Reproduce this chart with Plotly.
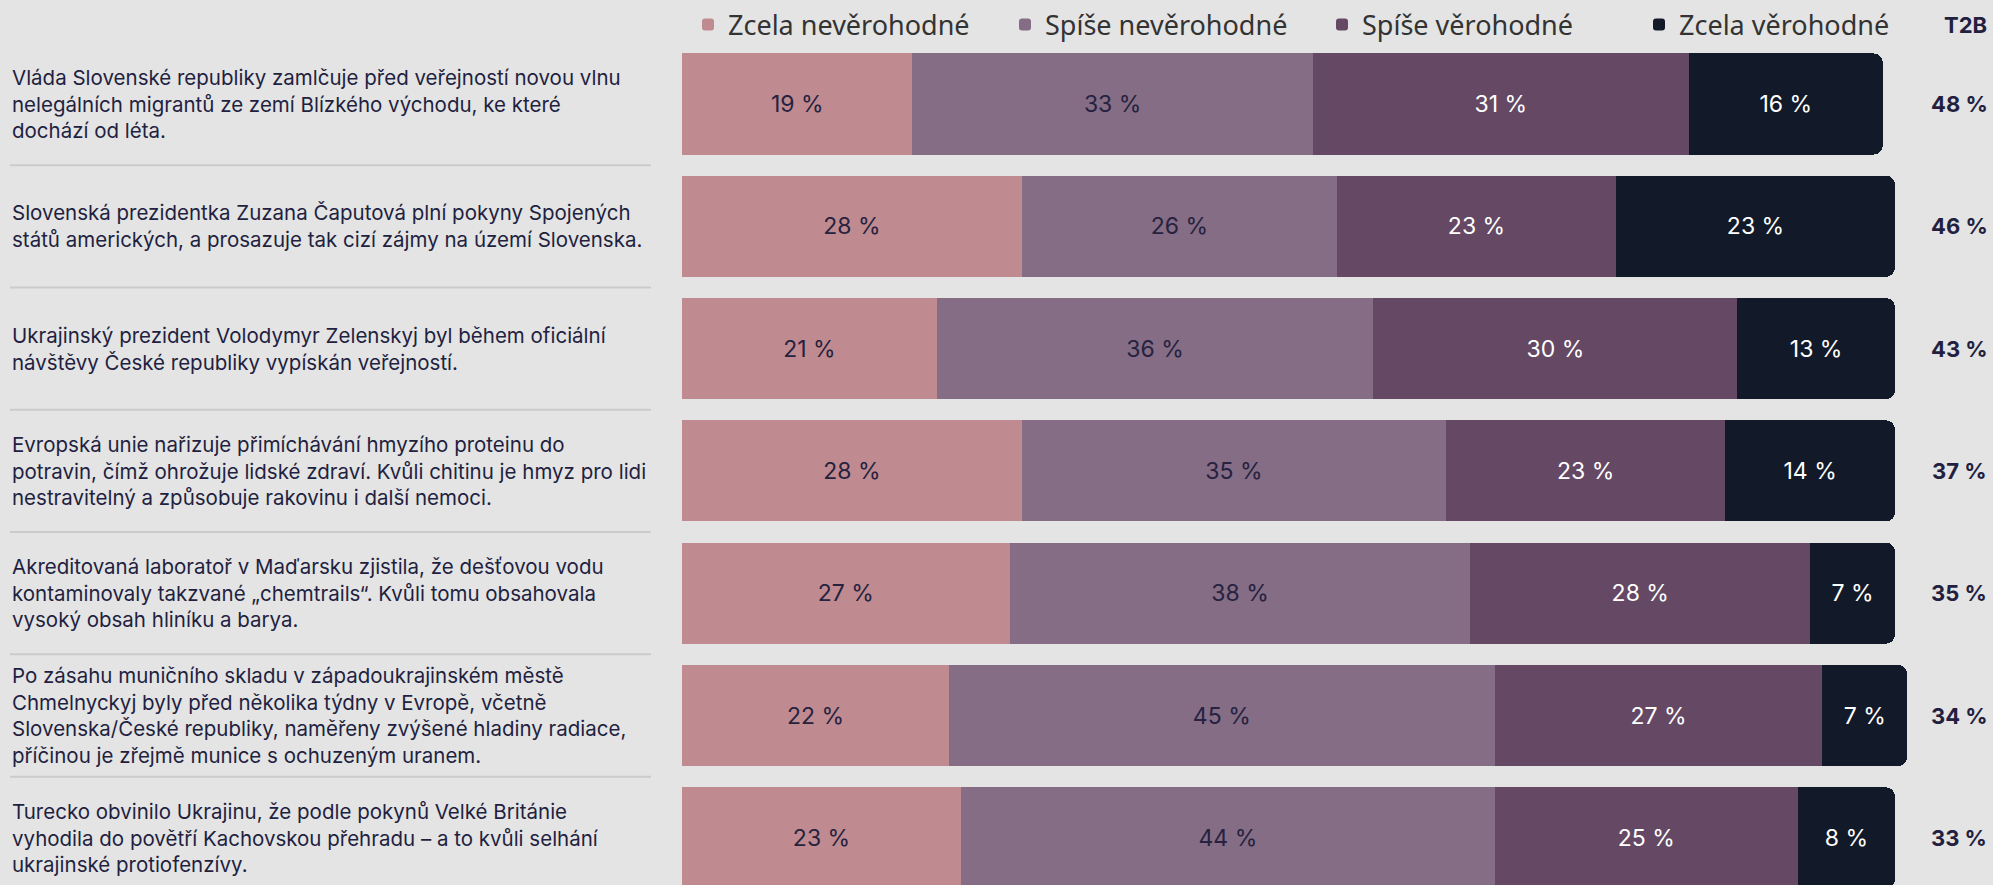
import plotly.graph_objects as go

# statements (rows, top to bottom)
statements = [
    "Vláda Slovenské republiky zamlčuje před veřejností novou vlnu<br>nelegálních migrantů ze zemí Blízkého východu, ke které<br>dochází od léta.",
    "Slovenská prezidentka Zuzana Čaputová plní pokyny Spojených<br>států amerických, a prosazuje tak cizí zájmy na území Slovenska.",
    "Ukrajinský prezident Volodymyr Zelenskyj byl během oficiální<br>návštěvy České republiky vypískán veřejností.",
    "Evropská unie nařizuje přimíchávání hmyzího proteinu do<br>potravin, čímž ohrožuje lidské zdraví. Kvůli chitinu je hmyz pro lidi<br>nestravitelný a způsobuje rakovinu i další nemoci.",
    "Akreditovaná laboratoř v Maďarsku zjistila, že dešťovou vodu<br>kontaminovaly takzvané „chemtrails“. Kvůli tomu obsahovala<br>vysoký obsah hliníku a barya.",
    "Po zásahu muničního skladu v západoukrajinském městě<br>Chmelnyckyj byly před několika týdny v Evropě, včetně<br>Slovenska/České republiky, naměřeny zvýšené hladiny radiace,<br>příčinou je zřejmě munice s ochuzeným uranem.",
    "Turecko obvinilo Ukrajinu, že podle pokynů Velké Británie<br>vyhodila do povětří Kachovskou přehradu – a to kvůli selhání<br>ukrajinské protiofenzívy.",
]
rows = list(range(len(statements)))

series_names = ["Zcela nevěrohodné", "Spíše nevěrohodné", "Spíše věrohodné", "Zcela věrohodné"]
zcela_neverohodne = [19, 28, 21, 28, 27, 22, 23]
spise_neverohodne = [33, 26, 36, 35, 38, 45, 44]
spise_verohodne = [31, 23, 30, 23, 28, 27, 25]
zcela_verohodne = [16, 23, 13, 14, 7, 7, 8]
t2b = [48, 46, 43, 37, 35, 34, 33]

colors = ["#bf8b90", "#846d85", "#644864", "#121928"]
text_colors = ["#26223f", "#26223f", "#ffffff", "#ffffff"]
navy = "#221f40"
bg = "#e4e4e4"

W, H = 1993, 885
x0_px, px_per_pct = 682, 12.13
x_max = 101.5
row0_px, row_step = 104, 122.3

fig = go.Figure()
for name, vals, col, tcol in zip(series_names,
                                  [zcela_neverohodne, spise_neverohodne, spise_verohodne, zcela_verohodne],
                                  colors, text_colors):
    fig.add_trace(go.Bar(
        y=rows, x=vals, name=name, orientation="h",
        marker=dict(color=col, line=dict(width=0)),
        width=0.826,
        text=[f"{v} %" for v in vals], textposition="inside",
        insidetextanchor="middle", textangle=0, constraintext="none",
        insidetextfont=dict(family="Inter, sans-serif", size=23, color=tcol),
        hoverinfo="skip",
    ))

# statement labels on the left
for i, s in zip(rows, statements):
    fig.add_annotation(x=10 / W, xref="paper", y=i, yref="y", text=s,
                       showarrow=False, xanchor="left", yanchor="middle", align="left",
                       font=dict(family="Inter, sans-serif", size=20.5, color=navy))
# separators
for i in rows[:-1]:
    fig.add_shape(type="line", xref="paper", yref="y", x0=10 / W, x1=651 / W,
                  y0=i + 0.5, y1=i + 0.5, line=dict(color="#cbcbcb", width=2))

# T2B column
fig.add_annotation(x=1965 / W, xref="paper", y=1 - 25 / H, yref="paper", text="<b>T2B</b>",
                   showarrow=False, xanchor="center", yanchor="middle",
                   font=dict(family="Inter, sans-serif", size=22, color=navy))
for i, v in zip(rows, t2b):
    fig.add_annotation(x=1959 / W, xref="paper", y=i, yref="y", text=f"<b>{v} %</b>",
                       showarrow=False, xanchor="center", yanchor="middle",
                       font=dict(family="Inter, sans-serif", size=22, color=navy))

fig.update_layout(
    width=W, height=H, barmode="stack", barcornerradius=9,
    paper_bgcolor=bg, plot_bgcolor=bg,
    margin=dict(l=0, r=0, t=0, b=0),
    showlegend=True,
    legend=dict(orientation="h", x=688 / W, xanchor="left", y=1 - 25 / H, yanchor="middle",
                bgcolor="rgba(0,0,0,0)", traceorder="normal",
                entrywidth=272, entrywidthmode="pixels",
                font=dict(family="Noto Sans, sans-serif", size=27, color="#333333")),
    xaxis=dict(domain=[x0_px / W, (x0_px + x_max * px_per_pct) / W], range=[0, x_max],
               visible=False, fixedrange=True),
    yaxis=dict(domain=[0, 1],
               range=[(H - row0_px) / row_step, -row0_px / row_step],
               visible=False, fixedrange=True),
)

fig.write_html("out.html", config={"displayModeBar": False},
               post_script="document.body.style.margin='0';document.body.style.background='#e4e4e4';")
